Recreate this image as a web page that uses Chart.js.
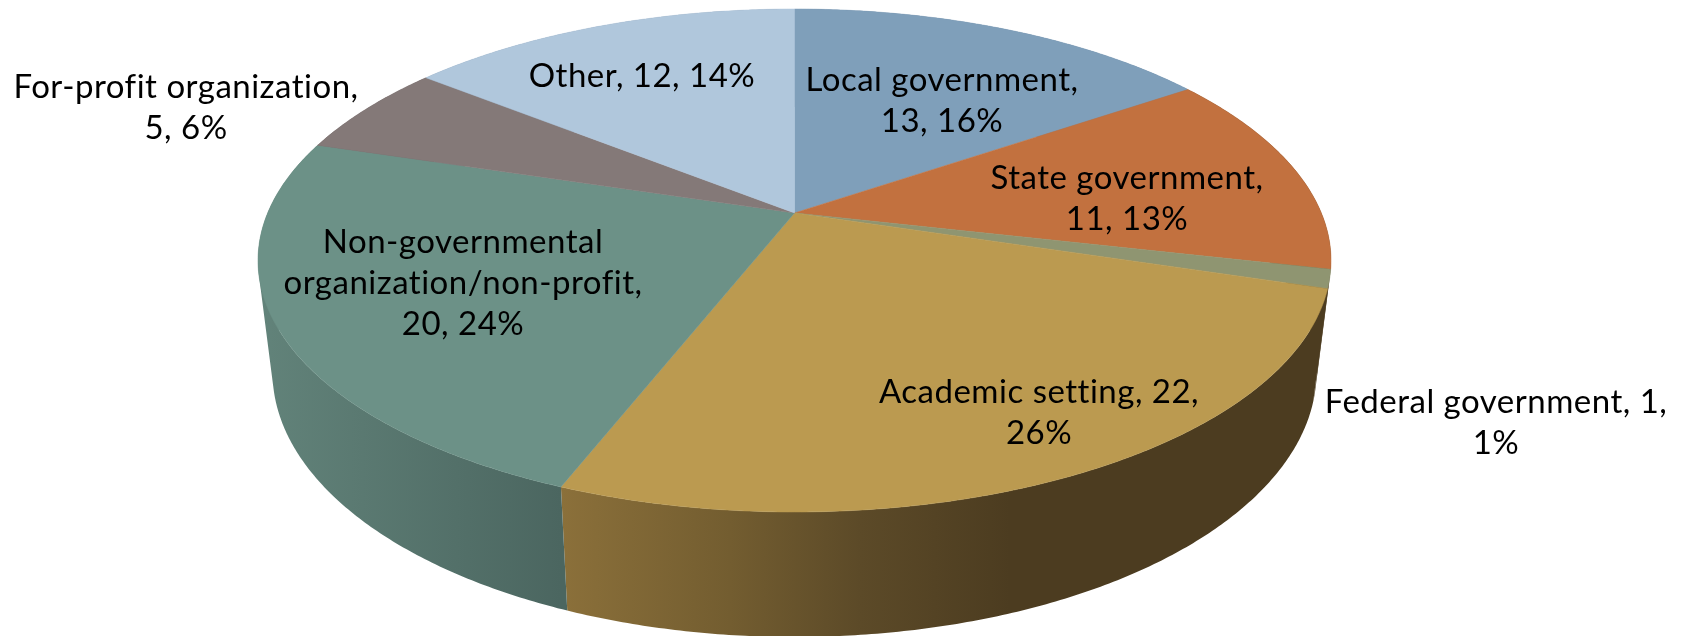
<!DOCTYPE html>
<html>
<head>
<meta charset="utf-8">
<title>Sector</title>
<style>
  html, body { margin: 0; background: #fff; overflow: hidden; }
  canvas { display: block; }
</style>
<script src="https://cdn.jsdelivr.net/npm/chart.js@4/dist/chart.umd.min.js"></script>
</head>
<body>
<canvas id="pie" width="1689" height="636"></canvas>
<script>
// Data
const categories = ["Local government", "State government", "Federal government",
  "Academic setting", "Non-governmental organization/non-profit", "For-profit organization", "Other"];
const counts = [13, 11, 1, 22, 20, 5, 12];

// Label text, line by line
const labelLines = [
  ["Local government,", "13, 16%"],
  ["State government,", "11, 13%"],
  ["Federal government, 1,", "1%"],
  ["Academic setting, 22,", "26%"],
  ["Non-governmental", "organization/non-profit,", "20, 24%"],
  ["For-profit organization,", "5, 6%"],
  ["Other, 12, 14%"]
];
// centre x, first baseline
const labelAnchors = [[942, 91], [1127, 189], [1496, 413], [1039, 403], [463, 253], [186, 98], [642, 87]];
const labelLineGap = 41;

// Colours
const topColors = ["#7f9fba", "#c2713f", "#8f9571", "#bb9a50", "#6c9187", "#847978", "#b0c7dc"];
const wallStops = [
  [[0, "#5f7a93"], [1, "#5f7a93"]],
  [[0, "#4e3d22"], [1, "#4e3d22"]],
  [[0, "#4c3c20"], [1, "#4c3c20"]],
  [[561, "#8b703a"], [730, "#735d30"], [860, "#5c4a28"], [1010, "#4c3c20"], [1330, "#4c3c20"]],
  [[258, "#62837a"], [561, "#4b6660"]],
  [[0, "#5f5655"], [1, "#5f5655"]],
  [[0, "#7f94a6"], [1, "#7f94a6"]]
];

// Perspective of the tilted disc
const tilt = 0.189;        // how far the pie centre sits above the ellipse centre
const stretchX = 536.5 / 251.5;
const bottomA = 522 / 536.5;
const bottomB = 265 / 251.5;
const bottomDrop = 111.5;
const stepAngle = Math.PI / 360;

function project(el, angle, bottom) {
  const ux = Math.cos(angle), uy = Math.sin(angle);
  const d = 1 - tilt * uy;
  const px = ux * Math.sqrt(1 - tilt * tilt) / d;
  const py = (uy - tilt) / d;
  const r = el.outerRadius;
  if (bottom) {
    return [el.x + px * r * stretchX * bottomA, el.y + bottomDrop + py * r * bottomB];
  }
  return [el.x + px * r * stretchX, el.y + py * r];
}

function sweep(el, fn) {
  const n = Math.max(1, Math.ceil((el.endAngle - el.startAngle) / stepAngle));
  for (let i = 0; i <= n; i++) fn(el.startAngle + (el.endAngle - el.startAngle) * i / n);
}

// Slice tops go through the perspective instead of a plain circle
Chart.ArcElement.prototype.draw = function (ctx) {
  const r = this.outerRadius;
  ctx.save();
  ctx.beginPath();
  ctx.moveTo(this.x, this.y - tilt * r);
  sweep(this, a => {
    const p = project(this, a, false);
    ctx.lineTo(p[0], p[1]);
  });
  ctx.closePath();
  ctx.fillStyle = this.options.backgroundColor;
  ctx.strokeStyle = this.options.backgroundColor;
  ctx.lineWidth = 0.5;
  ctx.fill();
  ctx.stroke();
  ctx.restore();
};

// adds a quad to the path, always wound the same way so overlaps don't cancel
function addQuad(ctx, q) {
  let area = 0;
  q.forEach((p, i) => {
    const n = q[(i + 1) % 4];
    area += p[0] * n[1] - n[0] * p[1];
  });
  const pts = area < 0 ? q.slice().reverse() : q;
  ctx.moveTo(pts[0][0], pts[0][1]);
  for (let i = 1; i < 4; i++) ctx.lineTo(pts[i][0], pts[i][1]);
  ctx.closePath();
}

const wallPlugin = {
  id: "walls",
  beforeDatasetsDraw(chart) {
    const ctx = chart.ctx;
    chart.getDatasetMeta(0).data.forEach((el, i) => {
      const stops = wallStops[i];
      const x0 = stops[0][0], x1 = stops[stops.length - 1][0];
      const grad = ctx.createLinearGradient(x0, 0, x1, 0);
      stops.forEach(s => grad.addColorStop((s[0] - x0) / (x1 - x0), s[1]));
      ctx.save();
      ctx.fillStyle = grad;
      // one path for the whole wall, so the strips leave no seams
      ctx.beginPath();
      let prev = null;
      sweep(el, a => {
        const t = project(el, a, false), b = project(el, a, true);
        if (prev) addQuad(ctx, [prev[0], t, b, prev[1]]);
        prev = [t, b];
      });
      ctx.fill();
      ctx.restore();
    });
  }
};

const labelPlugin = {
  id: "pieLabels",
  afterDatasetsDraw(chart) {
    const ctx = chart.ctx;
    ctx.save();
    ctx.fillStyle = "#000";
    ctx.font = '33px Lato';
    ctx.letterSpacing = "0.5px";
    ctx.textAlign = "center";
    ctx.textBaseline = "alphabetic";
    labelLines.forEach((lines, i) => {
      lines.forEach((line, j) => {
        ctx.fillText(line, labelAnchors[i][0], labelAnchors[i][1] + j * labelLineGap);
      });
    });
    ctx.restore();
  }
};

new Chart(document.getElementById("pie"), {
  type: "pie",
  data: {
    labels: categories,
    datasets: [{ data: counts, backgroundColor: topColors, borderWidth: 0 }]
  },
  options: {
    responsive: false,
    animation: false,
    layout: { padding: { left: 0, right: 100, top: 9, bottom: 124 } },
    plugins: { legend: { display: false }, tooltip: { enabled: false } }
  },
  plugins: [wallPlugin, labelPlugin]
});
</script>
</body>
</html>
